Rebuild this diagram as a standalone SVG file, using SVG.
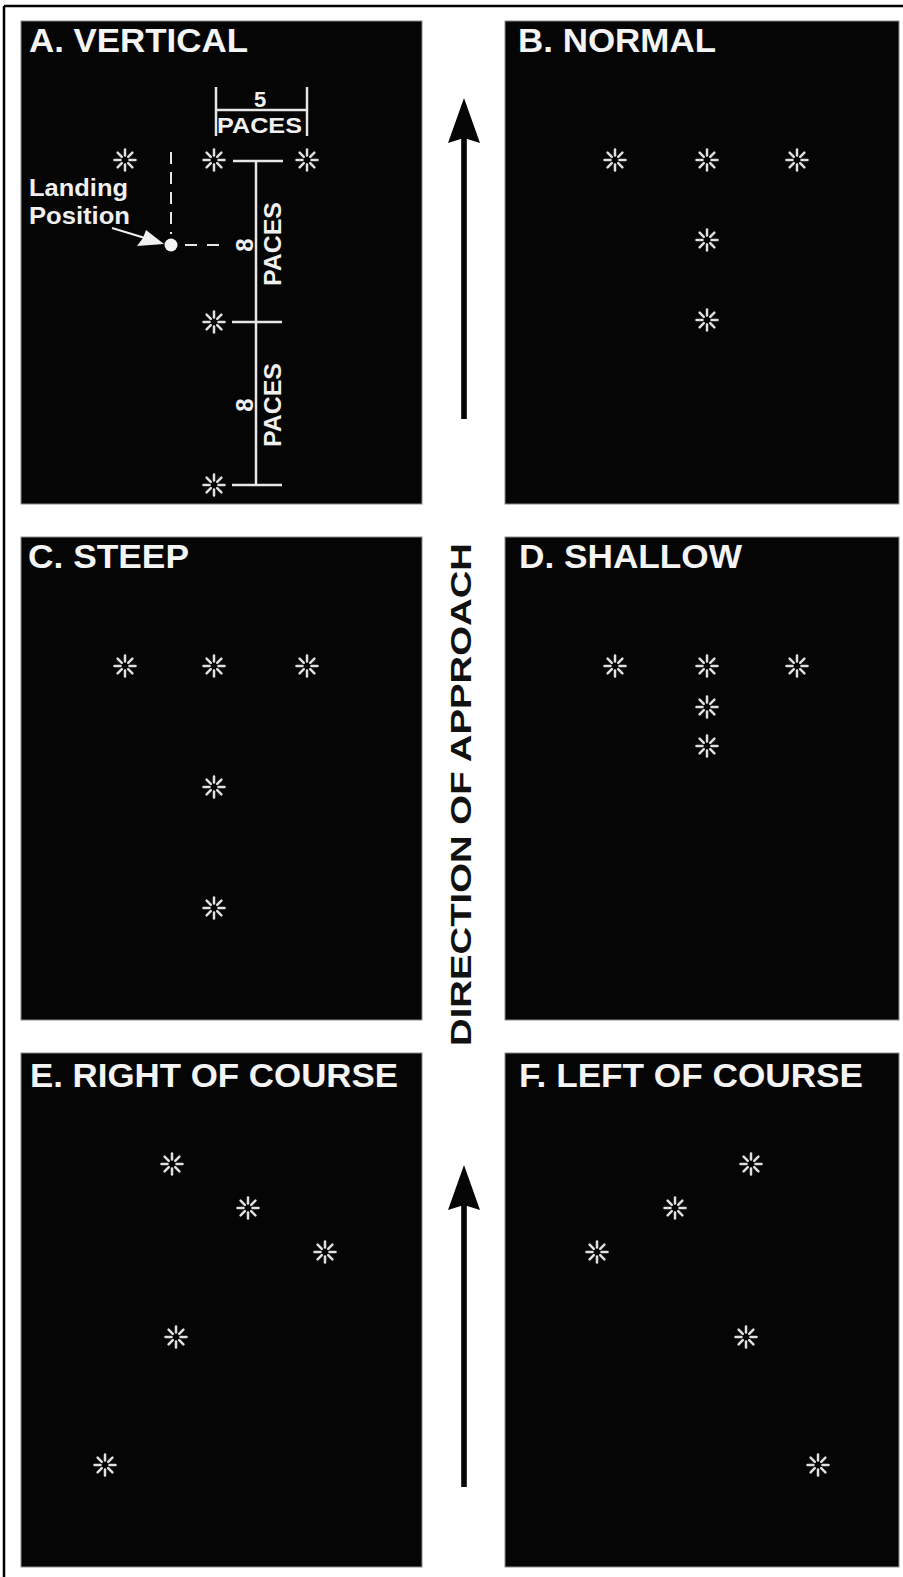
<svg xmlns="http://www.w3.org/2000/svg" xmlns:xlink="http://www.w3.org/1999/xlink" width="903" height="1577" viewBox="0 0 903 1577">
<style>
.panel{fill:#050505;stroke:#8a8a8a;stroke-width:1}
.title{font-family:"Liberation Sans",Arial,sans-serif;font-weight:bold;font-size:34px;fill:#f4f4f4}
.lbl{font-family:"Liberation Sans",Arial,sans-serif;font-weight:bold;fill:#f0f0f0}
.dim{stroke:#e6e6e6;stroke-width:2.5;fill:none}
.dash{stroke:#e6e6e6;stroke-width:2;fill:none}
.dir{font-family:"Liberation Sans",Arial,sans-serif;font-weight:bold;font-size:30px;fill:#111}
</style>
<defs>
<g id="star" stroke="#e0e0e0" stroke-width="2.5" stroke-linecap="round">
<line x1="0" y1="-4.5" x2="0" y2="-10.5"/>
<line x1="0" y1="4.5" x2="0" y2="10.5"/>
<line x1="-4.5" y1="0" x2="-10.5" y2="0"/>
<line x1="4.5" y1="0" x2="10.5" y2="0"/>
<line x1="3.2" y1="-3.2" x2="7.4" y2="-7.4"/>
<line x1="-3.2" y1="-3.2" x2="-7.4" y2="-7.4"/>
<line x1="3.2" y1="3.2" x2="7.4" y2="7.4"/>
<line x1="-3.2" y1="3.2" x2="-7.4" y2="7.4"/>
</g>
</defs>
<rect x="0" y="0" width="903" height="1577" fill="#ffffff"/>
<g id="frame" stroke="#000" stroke-width="2.5">
<line x1="4" y1="6" x2="903" y2="6"/>
<line x1="4" y1="6" x2="4" y2="1577"/>
</g>

<g id="panel-a">
<rect class="panel" x="21" y="21" width="401" height="483"/>
<text class="title" x="29" y="52" textLength="219" lengthAdjust="spacingAndGlyphs">A. VERTICAL</text>
<line class="dim" x1="216" y1="87" x2="216" y2="136"/>
<line class="dim" x1="307" y1="87" x2="307" y2="136"/>
<line class="dim" x1="216" y1="110" x2="307" y2="110"/>
<text class="lbl" x="260" y="107" font-size="22" text-anchor="middle">5</text>
<text class="lbl" x="217" y="133" font-size="22" textLength="85" lengthAdjust="spacingAndGlyphs">PACES</text>
<line class="dim" x1="256" y1="161" x2="256" y2="485"/>
<line class="dim" x1="233" y1="161" x2="283" y2="161"/>
<line class="dim" x1="232" y1="322" x2="282" y2="322"/>
<line class="dim" x1="232" y1="485" x2="282" y2="485"/>
<text class="lbl" font-size="24" text-anchor="middle" transform="translate(253,245) rotate(-90)">8</text>
<text class="lbl" font-size="23" text-anchor="middle" textLength="84" lengthAdjust="spacingAndGlyphs" transform="translate(281,244) rotate(-90)">PACES</text>
<text class="lbl" font-size="24" text-anchor="middle" transform="translate(253,405) rotate(-90)">8</text>
<text class="lbl" font-size="23" text-anchor="middle" textLength="84" lengthAdjust="spacingAndGlyphs" transform="translate(281,405) rotate(-90)">PACES</text>
<line class="dash" x1="171" y1="152" x2="171" y2="234" stroke-dasharray="12 8"/>
<line class="dash" x1="185" y1="245" x2="223" y2="245" stroke-dasharray="12 10"/>
<circle cx="171" cy="245" r="6.5" fill="#f4f4f4"/>
<text class="lbl" x="29" y="196" font-size="23" textLength="99" lengthAdjust="spacingAndGlyphs">Landing</text>
<text class="lbl" x="29" y="224" font-size="23" textLength="101" lengthAdjust="spacingAndGlyphs">Position</text>
<line x1="112" y1="228" x2="145" y2="238" stroke="#f0f0f0" stroke-width="2"/>
<polygon points="164,244 137,246 143,238 146,230" fill="#f0f0f0"/>
<use href="#star" x="125" y="160"/>
<use href="#star" x="214" y="160"/>
<use href="#star" x="307" y="160"/>
<use href="#star" x="214" y="322"/>
<use href="#star" x="214" y="485"/>
</g>

<g id="panel-b">
<rect class="panel" x="505" y="21" width="394" height="483"/>
<text class="title" x="518" y="52" textLength="198" lengthAdjust="spacingAndGlyphs">B. NORMAL</text>
<use href="#star" x="615" y="160"/>
<use href="#star" x="707" y="160"/>
<use href="#star" x="797" y="160"/>
<use href="#star" x="707" y="240"/>
<use href="#star" x="707" y="320"/>
</g>

<g id="panel-c">
<rect class="panel" x="21" y="537" width="401" height="483"/>
<text class="title" x="28" y="568" textLength="161" lengthAdjust="spacingAndGlyphs">C. STEEP</text>
<use href="#star" x="125" y="666"/>
<use href="#star" x="214" y="666"/>
<use href="#star" x="307" y="666"/>
<use href="#star" x="214" y="787"/>
<use href="#star" x="214" y="908"/>
</g>

<g id="panel-d">
<rect class="panel" x="505" y="537" width="394" height="483"/>
<text class="title" x="519" y="568" textLength="223" lengthAdjust="spacingAndGlyphs">D. SHALLOW</text>
<use href="#star" x="615" y="666"/>
<use href="#star" x="707" y="666"/>
<use href="#star" x="797" y="666"/>
<use href="#star" x="707" y="707"/>
<use href="#star" x="707" y="746"/>
</g>

<g id="panel-e">
<rect class="panel" x="21" y="1053" width="401" height="514"/>
<text class="title" x="30" y="1087" textLength="368" lengthAdjust="spacingAndGlyphs">E. RIGHT OF COURSE</text>
<use href="#star" x="172" y="1164"/>
<use href="#star" x="248" y="1208"/>
<use href="#star" x="325" y="1252"/>
<use href="#star" x="176" y="1337"/>
<use href="#star" x="105" y="1465"/>
</g>

<g id="panel-f">
<rect class="panel" x="505" y="1053" width="394" height="514"/>
<text class="title" x="519" y="1087" textLength="344" lengthAdjust="spacingAndGlyphs">F. LEFT OF COURSE</text>
<use href="#star" x="751" y="1164"/>
<use href="#star" x="675" y="1208"/>
<use href="#star" x="597" y="1252"/>
<use href="#star" x="746" y="1337"/>
<use href="#star" x="818" y="1465"/>
</g>

<g id="direction-label">
<text class="dir" text-anchor="middle" textLength="503" lengthAdjust="spacingAndGlyphs" transform="translate(471,794.5) rotate(-90)">DIRECTION OF APPROACH</text>
</g>

<g id="connectors" fill="#050505">
<rect x="461.2" y="136" width="5.6" height="283"/>
<polygon points="464,98 480,143 464,138 448,143"/>
<rect x="461.2" y="1203" width="5.6" height="284"/>
<polygon points="464,1165 480,1210 464,1205 448,1210"/>
</g>
</svg>
